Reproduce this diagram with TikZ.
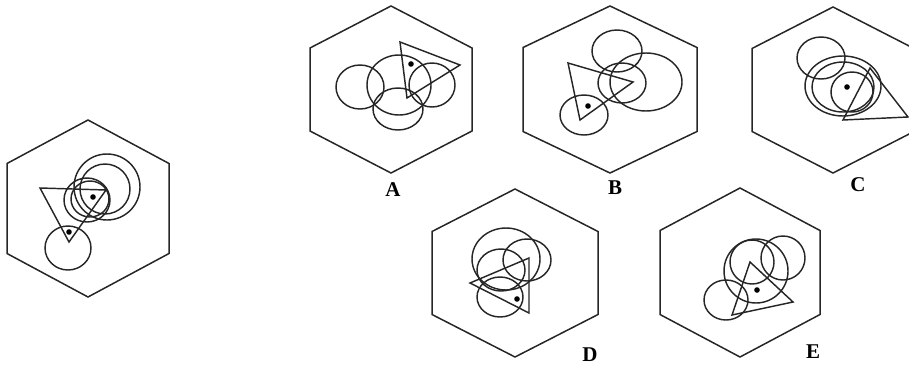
\documentclass[tikz,border=0pt]{standalone}
\usepackage{fontspec}
\setmainfont{Liberation Serif}
\begin{document}
\begin{tikzpicture}[x=1pt,y=-1pt,
  shp/.style={draw=black!85,line width=1.45pt},
  lbl/.style={font=\fontsize{21}{23}\selectfont\bfseries},
]
\useasboundingbox (0,0) rectangle (909,367);
\clip (0,0) rectangle (909,367);
\newcommand\hexg[5]{% cx cy halfwidth top side
  \draw[shp,line width=1.5pt] (#1,#2-#4) -- (#1+#3,#2-#5) -- (#1+#3,#2+#5) -- (#1,#2+#4) -- (#1-#3,#2+#5) -- (#1-#3,#2-#5) -- cycle;}
\newcommand\dotp[2]{\fill[black] (#1,#2) circle[radius=2.8pt];}
% ---- given figure
\hexg{88}{208.5}{81}{88.5}{45}
\draw[shp] (107,187) ellipse[x radius=33,y radius=33];
\draw[shp] (105,189) ellipse[x radius=25,y radius=25];
\draw[shp] (87,200) ellipse[x radius=23,y radius=22];
\draw[shp] (90,199) ellipse[x radius=19,y radius=18];
\draw[shp] (68,248) ellipse[x radius=23,y radius=22];
\draw[shp] (40,188) -- (106,190) -- (69,242) -- cycle;
\dotp{93}{197}\dotp{69}{232}
% ---- A
\hexg{391}{89.5}{81}{83.5}{41.5}
\draw[shp] (360,87) ellipse[x radius=24,y radius=22];
\draw[shp] (399,85) ellipse[x radius=32,y radius=30];
\draw[shp] (398,109) ellipse[x radius=25,y radius=21];
\draw[shp] (432,85) ellipse[x radius=23,y radius=22];
\draw[shp] (400,42) -- (460,65) -- (407,98) -- cycle;
\dotp{411}{64}
\node[lbl] (la) at (393,190) {A};
% ---- B
\hexg{610}{89.5}{87}{83.5}{42}
\draw[shp] (617,51) ellipse[x radius=25,y radius=21];
\draw[shp] (646,82) ellipse[x radius=36,y radius=29];
\draw[shp] (622,83) ellipse[x radius=24,y radius=20];
\draw[shp] (584,115) ellipse[x radius=24,y radius=20];
\draw[shp] (568,63) -- (633,82) -- (580,120) -- cycle;
\dotp{588}{106}
\node[lbl] (lb) at (615,188) {B};
% ---- C
\hexg{833}{90}{81}{83}{41.5}
\draw[shp] (821,58) ellipse[x radius=24,y radius=21];
\draw[shp] (843,86) ellipse[x radius=38,y radius=30];
\draw[shp] (843,87) ellipse[x radius=31,y radius=25];
\draw[shp] (852,92) ellipse[x radius=21,y radius=20];
\draw[shp] (870,68) -- (908,117) -- (843,120) -- cycle;
\dotp{847}{87}
\node[lbl] (lc) at (858,185) {C};
% ---- D
\hexg{515}{273}{83}{84}{41.5}
\draw[shp] (506,259) ellipse[x radius=34,y radius=31];
\draw[shp] (527,260) ellipse[x radius=24,y radius=21];
\draw[shp] (501,270) ellipse[x radius=24,y radius=21];
\draw[shp] (500,297) ellipse[x radius=23,y radius=20];
\draw[shp] (529,258) -- (470,283) -- (529,313) -- cycle;
\dotp{517}{299}
\node[lbl] (ld) at (590,355) {D};
% ---- E
\hexg{740}{272.5}{80}{84.5}{42}
\draw[shp] (756,271) ellipse[x radius=32,y radius=32];
\draw[shp] (752,262) ellipse[x radius=22,y radius=22];
\draw[shp] (783,258) ellipse[x radius=22,y radius=22];
\draw[shp] (726,300) ellipse[x radius=22,y radius=20];
\draw[shp] (750,262) -- (793,302) -- (732,315) -- cycle;
\dotp{757}{290}
\node[lbl] (le) at (813,352) {E};
\end{tikzpicture}
\end{document}
